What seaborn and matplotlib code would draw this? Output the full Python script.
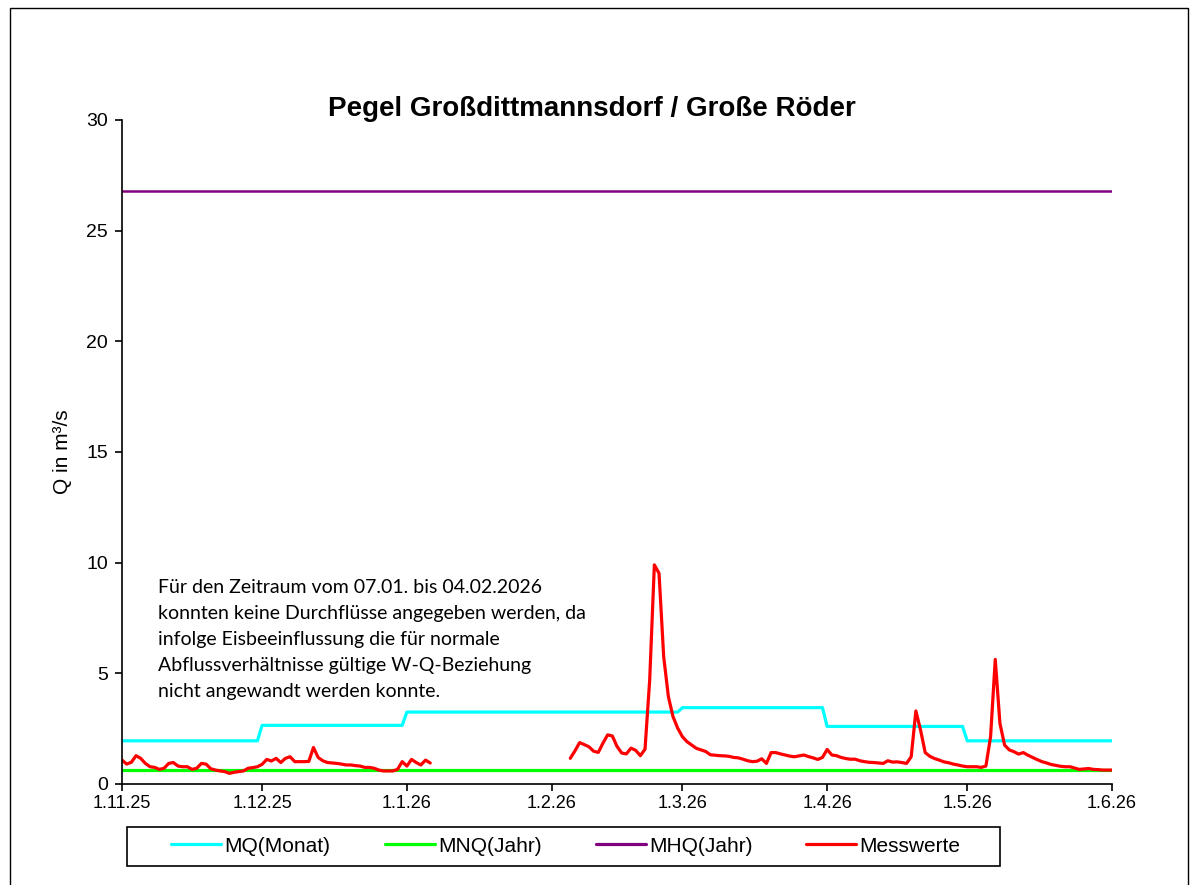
import pandas as pd
import seaborn as sns
import matplotlib.pyplot as plt
from matplotlib.lines import Line2D
from matplotlib.patches import Rectangle

# Messwerte (Tagesmittel in m³/s), Lücke 07.01. - 04.02.2026 wegen Eis
q_part1 = [1.08, 0.90, 0.98, 1.28, 1.16, 0.93, 0.78, 0.75, 0.66, 0.71,
           0.93, 0.97, 0.81, 0.78, 0.78, 0.66, 0.71, 0.93, 0.90, 0.69,
           0.63, 0.59, 0.56, 0.48, 0.53, 0.56, 0.59, 0.71, 0.74, 0.78,
           0.89, 1.11, 1.04, 1.16, 0.97, 1.16, 1.23, 1.01, 1.01, 1.01,
           1.02, 1.65, 1.20, 1.05, 0.97, 0.95, 0.93, 0.90, 0.86, 0.86,
           0.83, 0.81, 0.75, 0.75, 0.71, 0.63, 0.59, 0.59, 0.59, 0.66,
           1.01, 0.81, 1.11, 0.97, 0.86, 1.08, 0.95]  # ab 01.11.2025
q_part2 = [1.16, 1.50, 1.87, 1.78, 1.68, 1.48, 1.43, 1.85, 2.22, 2.17,
           1.70, 1.40, 1.36, 1.62, 1.52, 1.28, 1.57, 4.70, 9.90, 9.52,
           5.75, 3.95, 3.04, 2.52, 2.14, 1.91, 1.76, 1.61, 1.54, 1.47,
           1.32, 1.30, 1.28, 1.27, 1.25, 1.20, 1.18, 1.12, 1.05, 1.01,
           1.03, 1.14, 0.93, 1.42, 1.42, 1.36, 1.31, 1.26, 1.23, 1.27,
           1.31, 1.24, 1.18, 1.11, 1.20, 1.56, 1.31, 1.28, 1.20, 1.15,
           1.12, 1.12, 1.05, 1.01, 0.98, 0.97, 0.95, 0.93, 1.05, 0.99,
           1.00, 0.97, 0.93, 1.23, 3.30, 2.44, 1.42, 1.25, 1.15, 1.08,
           1.00, 0.96, 0.90, 0.86, 0.81, 0.78, 0.78, 0.78, 0.75, 0.81,
           2.14, 5.63, 2.74, 1.76, 1.54, 1.46, 1.35, 1.42, 1.30, 1.20,
           1.10, 1.01, 0.95, 0.88, 0.84, 0.80, 0.78, 0.78, 0.72, 0.66,
           0.68, 0.70, 0.66, 0.65, 0.63, 0.63, 0.63]  # ab 05.02.2026

mq_months = ["2025-11", "2025-12", "2026-01", "2026-02", "2026-03", "2026-04", "2026-05"]
mq_values = [1.95, 2.65, 3.25, 3.25, 3.45, 2.60, 1.95]
mnq_value = 0.62
mhq_value = 26.8

tick_dates = ["2025-11-01", "2025-12-01", "2026-01-01", "2026-02-01",
              "2026-03-01", "2026-04-01", "2026-05-01", "2026-06-01"]
tick_labels = ["1.11.25", "1.12.25", "1.1.26", "1.2.26", "1.3.26", "1.4.26", "1.5.26", "1.6.26"]

note = ("Für den Zeitraum vom 07.01. bis 04.02.2026\n"
        "konnten keine Durchflüsse angegeben werden, da\n"
        "infolge Eisbeeinflussung die für normale\n"
        "Abflussverhältnisse gültige W-Q-Beziehung\n"
        "nicht angewandt werden konnte.")

# Tageswerte fuer die Kennwerte
df = pd.DataFrame({"Datum": pd.date_range("2025-11-01", "2026-06-01", freq="D")})
df["MQ"] = df["Datum"].dt.strftime("%Y-%m").map(dict(zip(mq_months, mq_values))).ffill()
df["MNQ"] = mnq_value
df["MHQ"] = mhq_value

meas1 = pd.DataFrame({"Datum": pd.date_range("2025-11-01", periods=len(q_part1), freq="D"), "Q": q_part1})
meas2 = pd.DataFrame({"Datum": pd.date_range("2026-02-05", periods=len(q_part2), freq="D"), "Q": q_part2})

sns.set_style("ticks")
plt.rcParams["font.family"] = ["Liberation Sans", "DejaVu Sans"]
plt.rcParams["text.color"] = "black"
plt.rcParams["axes.labelcolor"] = "black"

colors = {"MQ(Monat)": "#00FFFF", "MNQ(Jahr)": "#00FF00", "MHQ(Jahr)": "#800080", "Messwerte": "#FF0000"}

fig = plt.figure(figsize=(11.97, 8.85), dpi=100)
ax = fig.add_axes([122 / 1197, 1 - 784 / 885, 990 / 1197, 664 / 885])

sns.lineplot(data=df, x="Datum", y="MQ", color=colors["MQ(Monat)"], lw=2.3, ax=ax)
sns.lineplot(data=df, x="Datum", y="MNQ", color=colors["MNQ(Jahr)"], lw=2.3, ax=ax)
sns.lineplot(data=df, x="Datum", y="MHQ", color=colors["MHQ(Jahr)"], lw=1.8, ax=ax)
sns.lineplot(data=meas1, x="Datum", y="Q", color=colors["Messwerte"], lw=2.3, ax=ax)
sns.lineplot(data=meas2, x="Datum", y="Q", color=colors["Messwerte"], lw=2.3, ax=ax)

ax.set_xlim(pd.Timestamp("2025-11-01"), pd.Timestamp("2026-06-01"))
ax.set_ylim(0, 30)
ax.set_yticks(range(0, 31, 5))
ax.set_xticks(pd.to_datetime(tick_dates))
ax.set_xticklabels(tick_labels)
ax.tick_params(axis="both", length=5, width=1.2, color="black", labelcolor="black")
ax.tick_params(axis="x", labelsize=13, pad=3)
ax.tick_params(axis="y", labelsize=14, pad=5)
ax.set_xlabel("")
ax.set_ylabel("Q in m³/s", fontsize=15)
ax.yaxis.set_label_coords(-0.051, 0.5)
for side in ["top", "right"]:
    ax.spines[side].set_visible(False)
for side in ["left", "bottom"]:
    ax.spines[side].set_color("black")
    ax.spines[side].set_linewidth(1.2)

ax.text(0.036, 0.309, note, transform=ax.transAxes, va="top", ha="left",
        fontsize=14, family=["Lato", "DejaVu Sans"], linespacing=1.65, color="black")

fig.text(592 / 1197, 1 - 109 / 885, "Pegel Großdittmannsdorf / Große Röder",
         ha="center", va="center", fontsize=20, fontweight="bold")

# Legende mit eigenem Rahmen
fig.patches.append(Rectangle((127 / 1197, 1 - 866 / 885), 873 / 1197, 39 / 885,
                             transform=fig.transFigure, fill=False, edgecolor="black", lw=1.2))
handles = [Line2D([], [], color=c, lw=2.3) for c in colors.values()]
leg = fig.legend(handles, list(colors.keys()), loc="center", ncol=4,
                 bbox_to_anchor=(566 / 1197, 1 - 846 / 885), frameon=False,
                 prop={"size": 15},
                 handlelength=2.4, handletextpad=0.15, columnspacing=2.6)

fig.patches.append(Rectangle((10 / 1197, -0.01), 1178 / 1197, 1.001, transform=fig.transFigure,
                             fill=False, edgecolor="black", lw=1))

fig.savefig("out.png", dpi=100)
